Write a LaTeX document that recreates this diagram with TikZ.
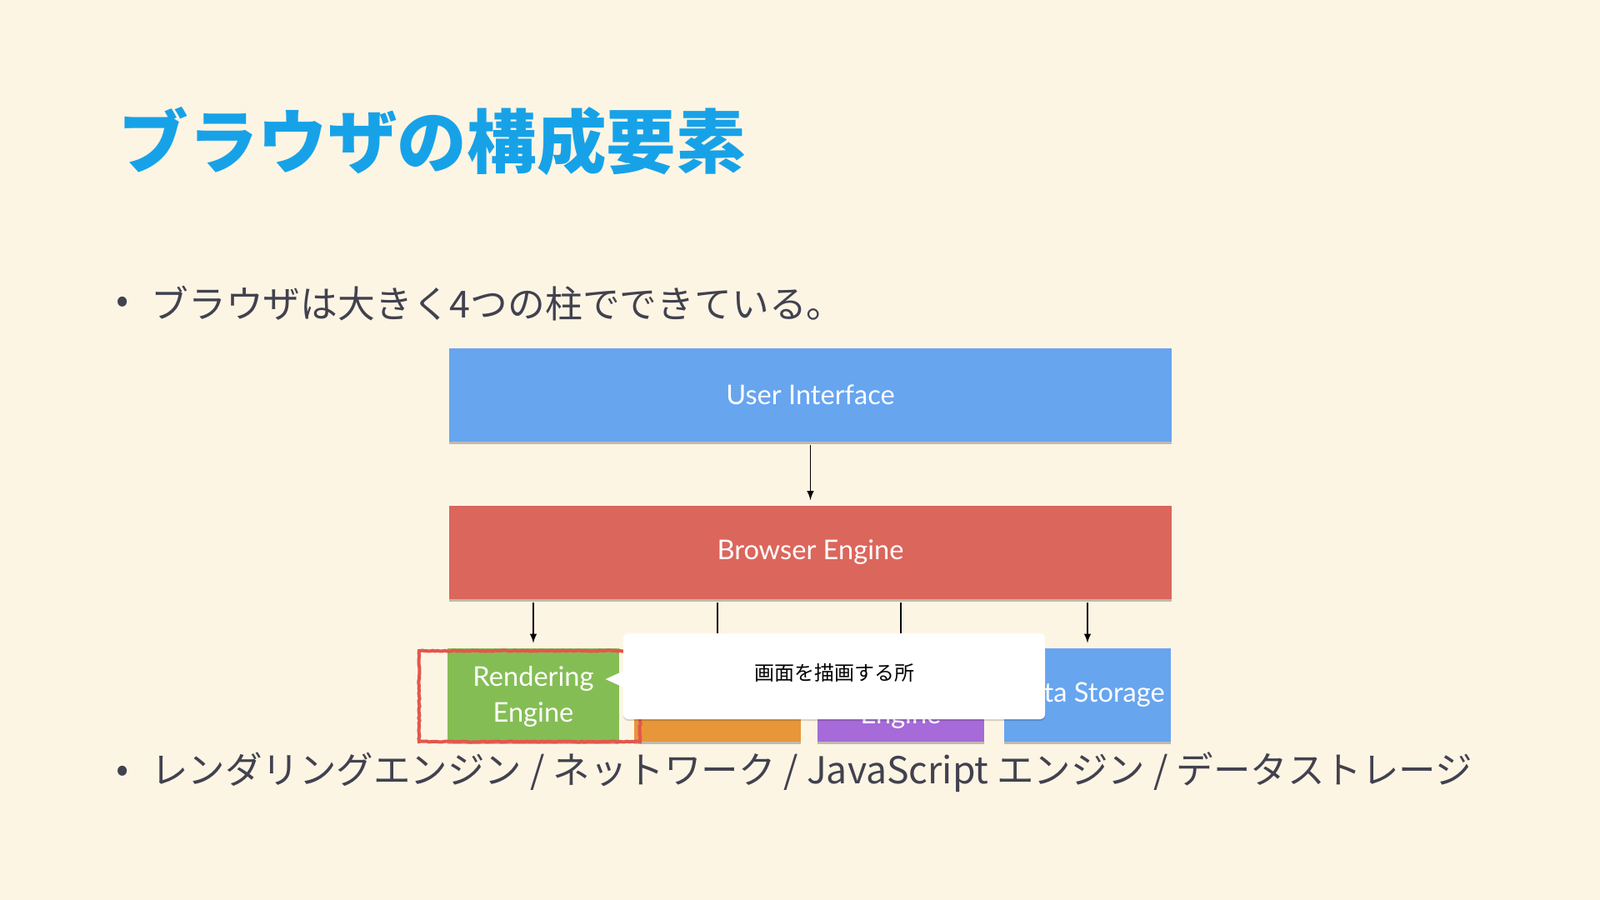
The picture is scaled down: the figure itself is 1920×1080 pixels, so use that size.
\documentclass[tikz,border=0pt]{standalone}
\usepackage{fontspec}
\newfontfamily\jpfont{Noto Sans CJK JP}
\newfontfamily\boxfont{Lato}
\usepackage{tikz}
\usetikzlibrary{arrows,calc,shadows,decorations.pathmorphing}

\definecolor{slidebg}{HTML}{FDF5E4}
\definecolor{titleblue}{HTML}{17A2E8}
\definecolor{bodytext}{HTML}{42414F}
\definecolor{uiblue}{HTML}{67A5EF}
\definecolor{bered}{HTML}{DB665C}
\definecolor{regreen}{HTML}{85BD55}
\definecolor{netorange}{HTML}{E8963A}
\definecolor{jspurple}{HTML}{A66AD9}
\definecolor{markred}{HTML}{E2574C}

\tikzset{
  layerbox/.style={fill=#1, text=white, inner sep=0pt, font=\boxfont\fontsize{16.3}{21.5}\selectfont, align=center,
    drop shadow={shadow xshift=0pt, shadow yshift=-1.5pt, opacity=0.35, fill=black!70}},
  widebox/.style={layerbox=#1, minimum width=433.5pt, minimum height=56pt},
  smallbox/.style={layerbox=#1, minimum width=100pt, minimum height=56pt},
  arw/.style={draw=black, line width=0.9pt, -latex, shorten <=2pt, shorten >=3pt},
  bullettext/.style={anchor=west, inner sep=0pt, text=bodytext, font=\jpfont\fontsize{22.4}{26}\selectfont}
}

\begin{document}
\begin{tikzpicture}[x=0.5pt,y=0.5pt,yscale=-1]
  %set diagram to 1920 x 1080
  \fill[slidebg] (0,0) rectangle (1920,1080);
  \useasboundingbox (0,0) rectangle (1920,1080);

  %Title
  \node[anchor=west, inner sep=0pt, text=titleblue, font=\jpfont\bfseries\fontsize{41.8}{48}\selectfont] (title) at (142,170) {ブラウザの構成要素};

  %Bullets
  \node[bullettext, anchor=center] (dot1) at (147,366) {•};
  \node[bullettext] (line1) at (181,364) {ブラウザは大きく4つの柱でできている。};
  \node[bullettext, anchor=center] (dot2) at (147,929) {•};
  \node[bullettext, font=\jpfont\fontsize{22.25}{26}\selectfont] (line2) at (181,927) {レンダリングエンジン / ネットワーク / JavaScript エンジン / データストレージ};

  %Layers
  \node[widebox=uiblue] (ui) at (972.5,474) {User Interface};
  \node[widebox=bered] (be) at (972.5,662.5) {Browser Engine};
  \node[smallbox=regreen, minimum width=103pt] (re) at (640,834) {\rule{0pt}{14pt}Rendering\\Engine};
  \node[smallbox=netorange] (net) at (861,834) {};
  \node[smallbox=jspurple] (js) at (1081,834) {};
  \node[smallbox=uiblue] (ds) at (1305,834) {Data Storage};
  \node[text=white, inner sep=0pt, font=\boxfont\fontsize{16.3}{21.5}\selectfont] (jsname) at (1081,860) {Engine};

  %Arrows
  \draw[arw] (ui) -- (be);
  \draw[arw] (be.south -| re) -- (re);
  \draw[arw] (be.south -| net) -- (net);
  \draw[arw] (be.south -| js) -- (js);
  \draw[arw] (be.south -| ds) -- (ds);

  %Highlight
  \draw[draw=markred, line width=2pt, decorate, decoration={random steps, segment length=1.5pt, amplitude=0.3pt}]
    (503,781) rectangle (768,890);

  %Popup
  \node[fill=white, rounded corners=3pt, minimum width=253pt, minimum height=51.5pt, inner sep=0pt,
    font=\jpfont\fontsize{12}{14}\selectfont, text=black,
    drop shadow={shadow xshift=0pt, shadow yshift=-1pt, opacity=0.15, fill=black}] (pop) at (1001,811.5) {画面を描画する所\rule[-5.5pt]{0pt}{0pt}};
  \fill[white] ($(pop.west)+(2,-7)$) -- ($(pop.west)+(-21,3.5)$) -- ($(pop.west)+(2,14)$) -- cycle;
\end{tikzpicture}
\end{document}
